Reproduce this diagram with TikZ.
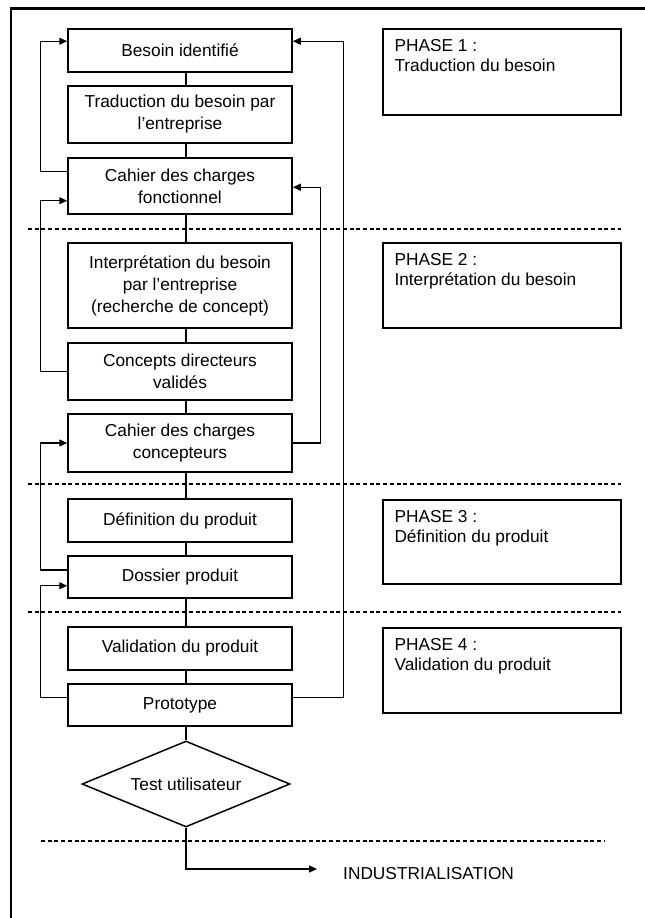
\documentclass[tikz,border=0pt]{standalone}
\usepackage{fontspec}
\setmainfont{Liberation Sans}
\usetikzlibrary{arrows.meta,shapes.geometric}
\begin{document}
\begin{tikzpicture}[x=1pt,y=-1pt,
  every node/.style={font=\fontsize{17.3}{22}\selectfont},
  stepbox/.style={draw, line width=1.5pt, minimum width=224pt, inner sep=0pt, align=center},
  phasebox/.style={draw, line width=1.4pt, minimum width=238pt, inner sep=0pt},
  phasetext/.style={inner sep=0pt, align=left, anchor=north west, font=\fontsize{17.3}{20}\selectfont},
  decision/.style={draw, diamond, line width=1.5pt, inner sep=0pt, aspect=2.42, minimum width=208pt, minimum height=86pt},
  link/.style={line width=1.3pt},
  arr/.style={link, -{Triangle[length=8pt,width=7pt]}},
  sep/.style={line width=1.2pt, dash pattern=on 4pt off 2.7pt},
  frame/.style={line width=2.5pt, line join=miter}]
\useasboundingbox (0,0) rectangle (645,918);

% outer frame (top and left edges)
\draw[frame] (11,918) -- (11,8.5) -- (645,8.5);

% phase separators
\draw[sep] (28,229) -- (621,229);
\draw[sep] (28,484) -- (621,484);
\draw[sep] (28,612) -- (621,612);
\draw[sep] (41,841) -- (605,841);

% main chain of steps
\node[stepbox, minimum height=43pt] (b1) at (180,50.5) {Besoin identifié};
\node[stepbox, minimum height=57pt] (b2) at (180,114.5) {Traduction du besoin par\\l’entreprise};
\node[stepbox, minimum height=56pt] (b3) at (180,186) {Cahier des charges\\fonctionnel};
\node[stepbox, minimum height=85pt] (b4) at (180,285.5) {Interprétation du besoin\\par l’entreprise\\(recherche de concept)};
\node[stepbox, minimum height=57pt] (b5) at (180,371.5) {Concepts directeurs\\validés};
\node[stepbox, minimum height=58pt] (b6) at (180,443) {Cahier des charges\\concepteurs};
\node[stepbox, minimum height=43pt] (b7) at (180,520.5) {Définition du produit};
\node[stepbox, minimum height=42pt] (b8) at (180,577) {Dossier produit};
\node[stepbox, minimum height=43pt] (b9) at (180,648.5) {Validation du produit};
\node[stepbox, minimum height=42pt] (b10) at (180,705) {Prototype};
\node[decision] (d) at (186,784) {Test utilisateur};
\node[anchor=west, inner sep=0pt] (ind) at (343,874) {INDUSTRIALISATION};

% vertical spine
\coordinate (sp) at (186,0);
\foreach \a/\b in {b1/b2,b2/b3,b3/b4,b4/b5,b5/b6,b6/b7,b7/b8,b8/b9,b9/b10}
  \draw[link] (\a.south -| sp) -- (\b.north -| sp);
\draw[link] (b10.south -| sp) -- (d.north);
\draw[arr] (d.south) |- ([xshift=-26pt,yshift=5pt]ind.west);

% feedback loops on the left
\draw[arr] ([yshift=-14pt]b3.north west) -- ++(-27,0) |- ([yshift=-13pt]b1.north west);
\draw[arr] (b5.west) -- ++(-27,0) |- ([yshift=14pt]b3.south west);
\draw[arr] ([yshift=7pt]b8.west) -- ++(-27,0) |- (b6.west);
\draw[arr] ([yshift=-14pt]b10.north west) -- ++(-27,0) |- ([yshift=13pt]b8.south west);

% feedback loops on the right
\draw[arr] ([yshift=-14pt]b10.north east) -- ++(51,0) |- ([yshift=-13pt]b1.north east);
\draw[arr] (b6.east) -- ++(28,0) |- ([yshift=-30pt]b3.north east);

% phase labels
\node[phasebox, minimum height=86pt] (p1) at (502,72) {};
\node[phasetext] at ([xshift=12pt,yshift=-11pt]p1.north west) {PHASE 1 :\\Traduction du besoin};
\node[phasebox, minimum height=85pt] (p2) at (502,285.5) {};
\node[phasetext] at ([xshift=12pt,yshift=-11pt]p2.north west) {PHASE 2 :\\Interprétation du besoin};
\node[phasebox, minimum height=84pt] (p3) at (502,542) {};
\node[phasetext] at ([xshift=12pt,yshift=-11pt]p3.north west) {PHASE 3 :\\Définition du produit};
\node[phasebox, minimum height=85pt] (p4) at (502,670.5) {};
\node[phasetext] at ([xshift=12pt,yshift=-11pt]p4.north west) {PHASE 4 :\\Validation du produit};
\end{tikzpicture}
\end{document}
